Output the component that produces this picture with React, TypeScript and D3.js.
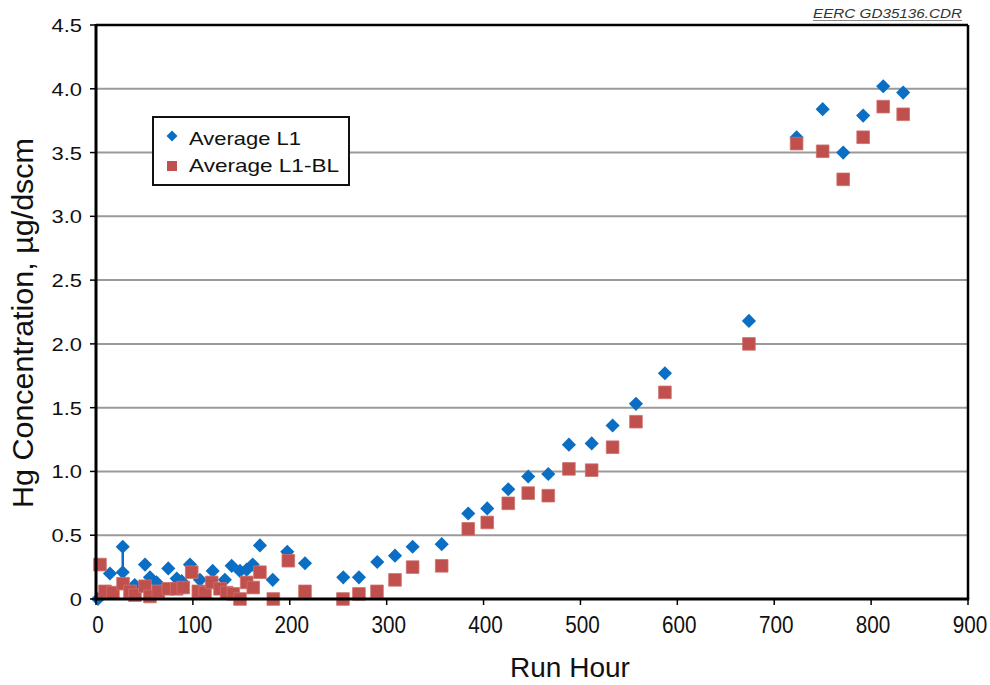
import React from "react";
import * as d3 from "d3";

const l1Hours = [2, 14.4, 27.6, 27.6, 40, 50.6, 55.7, 62.6, 74.6, 83.3, 88.4, 97, 107.3, 120.4, 133, 140, 148.6, 155.5, 161.7, 169.2, 182.4, 197.4, 215.7, 255.2, 271.4, 290.3, 308.6, 326.8, 356.8, 384.2, 403.8, 425.5, 446.1, 466.8, 488.1, 511.6, 533.2, 557.3, 587.2, 673.9, 723.1, 750, 771.2, 791.8, 812.5, 833.1];
const l1Values = [0.0, 0.2, 0.41, 0.21, 0.11, 0.27, 0.17, 0.13, 0.24, 0.16, 0.14, 0.27, 0.15, 0.22, 0.15, 0.26, 0.22, 0.23, 0.27, 0.42, 0.15, 0.37, 0.28, 0.17, 0.17, 0.29, 0.34, 0.41, 0.43, 0.67, 0.71, 0.86, 0.96, 0.98, 1.21, 1.22, 1.36, 1.53, 1.77, 2.18, 3.62, 3.84, 3.5, 3.79, 4.02, 3.97];

const blHours = [4.1, 9.3, 17.5, 27.9, 35.1, 40.2, 50.6, 55.7, 64.3, 74.6, 83.3, 90.1, 98.8, 105.6, 112.5, 119.4, 128, 134.9, 141.7, 148.6, 155.5, 162.3, 169.2, 183, 198.5, 215.7, 254.9, 271.4, 290, 308.6, 326.8, 356.8, 384.2, 403.8, 425.5, 446.1, 466.8, 488.1, 511.6, 533.2, 557.3, 587.2, 673.9, 723.1, 750, 771.2, 791.8, 812.5, 833.1];
const blValues = [0.27, 0.06, 0.05, 0.12, 0.06, 0.03, 0.1, 0.02, 0.06, 0.08, 0.08, 0.09, 0.21, 0.06, 0.05, 0.13, 0.08, 0.05, 0.04, 0.0, 0.13, 0.09, 0.21, 0.0, 0.3, 0.06, 0.0, 0.04, 0.06, 0.15, 0.25, 0.26, 0.55, 0.6, 0.75, 0.83, 0.81, 1.02, 1.01, 1.19, 1.39, 1.62, 2.0, 3.57, 3.51, 3.29, 3.62, 3.86, 3.8];

// vertical range line in the L1 series
const rangeHour = [27.6];
const rangeLow = [0.21];
const rangeHigh = [0.41];

const xTicks = [0, 100, 200, 300, 400, 500, 600, 700, 800, 900];
const yTicks = [0, 0.5, 1.0, 1.5, 2.0, 2.5, 3.0, 3.5, 4.0, 4.5];
const yTickLabels = ["0", "0.5", "1.0", "1.5", "2.0", "2.5", "3.0", "3.5", "4.0", "4.5"];

const seriesNames = ["Average L1", "Average L1-BL"];
const BLUE = "#0a6ec4";
const RED = "#c0504d";
const FONT = "'Liberation Sans', Arial, sans-serif";

export default function App() {
  const x = d3.scaleLinear().domain([0, 900]).range([96, 968]);
  const y = d3.scaleLinear().domain([0, 4.5]).range([599, 25]);
  const diamond = d3.symbol(d3.symbolSquare, 100)()!;
  const square = d3.symbol(d3.symbolSquare, 160)()!;
  const legDiamond = d3.symbol(d3.symbolSquare, 60)()!;
  const legSquare = d3.symbol(d3.symbolSquare, 100)()!;

  return (
    <svg width={990} height={685} style={{ position: "absolute", left: 0, top: 0, background: "#fff" }} fontFamily={FONT}>
      <rect x={0} y={0} width={990} height={685} fill="#fff" />
      {/* gridlines */}
      {yTicks.slice(1, -1).map((t) => (
        <line key={"g" + t} x1={x(0)} x2={x(900)} y1={y(t)} y2={y(t)} stroke="#9a9a9a" strokeWidth={2} />
      ))}
      {/* legend */}
      <rect x={153} y={117} width={196} height={68} fill="#fff" stroke="#111" strokeWidth={2} />
      <path d={legDiamond} transform="translate(172,136) rotate(45)" fill={BLUE} />
      <text x={189} y={145} fontSize={18.5} fill="#111" textLength={112} lengthAdjust="spacingAndGlyphs">{seriesNames[0]}</text>
      <path d={legSquare} transform="translate(172,166)" fill={RED} />
      <text x={189} y={172} fontSize={18.5} fill="#111" textLength={150} lengthAdjust="spacingAndGlyphs">{seriesNames[1]}</text>

      {/* range line */}
      {rangeHour.map((h, i) => (
        <line key={"r" + i} x1={x(h)} x2={x(h)} y1={y(rangeLow[i])} y2={y(rangeHigh[i])} stroke={BLUE} strokeWidth={2.5} />
      ))}
      {/* L1 diamonds */}
      {l1Hours.map((h, i) => (
        <path key={"b" + i} d={diamond} transform={`translate(${x(h)},${y(l1Values[i])}) rotate(45)`} fill={BLUE} />
      ))}
      {/* L1-BL squares */}
      {blHours.map((h, i) => (
        <path key={"s" + i} d={square} transform={`translate(${x(h)},${y(blValues[i])})`} fill={RED} stroke="#d0706c" strokeWidth={0.8} />
      ))}

      {/* frame */}
      <line x1={x(0)} x2={x(900)} y1={y(4.5)} y2={y(4.5)} stroke="#000" strokeWidth={2.5} />
      <line x1={x(900)} x2={x(900)} y1={y(4.5)} y2={y(0)} stroke="#000" strokeWidth={2.5} />
      <line x1={x(0)} x2={x(0)} y1={y(4.5) - 1} y2={y(0) + 1.5} stroke="#000" strokeWidth={3} />
      <line x1={x(0) - 1.5} x2={x(900) + 1.2} y1={y(0)} y2={y(0)} stroke="#000" strokeWidth={3} />

      {/* y ticks */}
      {yTicks.map((t, i) => (
        <g key={"yt" + t}>
          <line x1={x(0) - 6} x2={x(0)} y1={y(t)} y2={y(t)} stroke="#000" strokeWidth={1.5} />
          <text transform={`translate(82,${y(t) + 7}) scale(1.22,1)`} textAnchor="end" fontSize={18} fill="#111">
            {yTickLabels[i]}
          </text>
        </g>
      ))}
      {/* x ticks */}
      {xTicks.map((t) => (
        <g key={"xt" + t}>
          <line x1={x(t)} x2={x(t)} y1={y(0)} y2={y(0) + 6} stroke="#000" strokeWidth={1.5} />
          <text transform={`translate(${x(t) + 2},633) scale(0.9,1)`} textAnchor="middle" fontSize={23} fill="#111">
            {t}
          </text>
        </g>
      ))}

      {/* axis titles */}
      <text x={570} y={677} textAnchor="middle" fontSize={28} fill="#111">Run Hour</text>
      <text transform="translate(33,323) rotate(-90)" textAnchor="middle" fontSize={29} fill="#111" textLength={370} lengthAdjust="spacingAndGlyphs">
        Hg Concentration, µg/dscm
      </text>

      {/* file tag */}
      <text x={962} y={18} textAnchor="end" fontSize={13} fontStyle="italic" fill="#333" textLength={149} lengthAdjust="spacingAndGlyphs">
        EERC GD35136.CDR
      </text>
      <line x1={813} x2={962} y1={20.5} y2={20.5} stroke="#888" strokeWidth={1} />
    </svg>
  );
}
